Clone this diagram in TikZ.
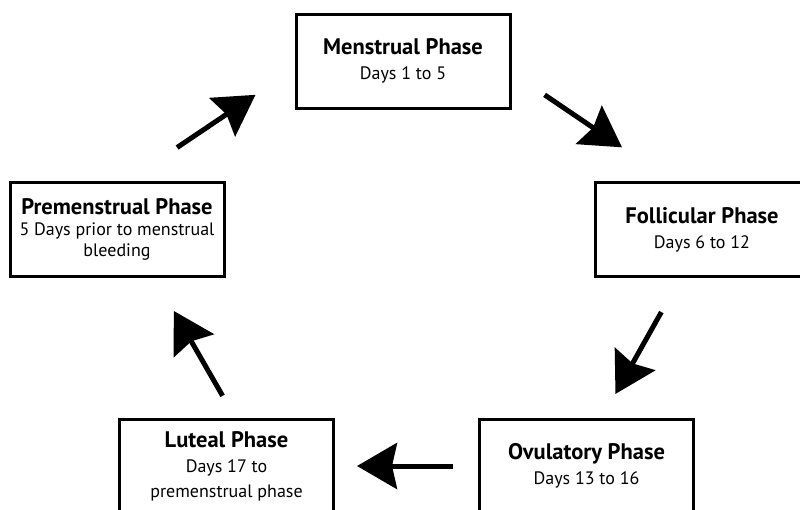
\documentclass[tikz,border=0pt]{standalone}
\usepackage{fontspec}
\setmainfont{PT Sans}
\usetikzlibrary{arrows.meta}
\tikzset{
->,
>={Stealth[length=40pt,width=46pt,inset=5pt]},
phase/.style={draw, -, line width=3pt, minimum width=214pt, minimum height=94pt,
  inner sep=0pt, align=center, font=\fontsize{18}{25}\selectfont},
}
\newcommand{\phasetitle}[1]{{\fontsize{22.5}{25}\selectfont\bfseries #1}}

\begin{document}
\begin{tikzpicture}[x=1pt,y=-1pt,line width=5pt]

    \useasboundingbox (0,0) rectangle (800,509);
    \clip (0,0) rectangle (800,509);

    \node[phase] (men) at (403,61) {\phasetitle{Menstrual Phase}\\Days 1 to 5};
    \node[phase] (foll) at (702,229.5) {\phasetitle{Follicular Phase}\\Days 6 to 12};
    \node[phase] (ovu) at (586.5,466) {\phasetitle{Ovulatory Phase}\\Days 13 to 16};
    \node[phase] (lut) at (226.5,466) {\phasetitle{Luteal Phase}\\Days 17 to\\premenstrual phase};
    \node[phase,font=\fontsize{18}{21}\selectfont] (pre) at (117,229.5)
        {\phasetitle{Premenstrual Phase}\\5 Days prior to menstrual\\bleeding};

    \draw[shorten <=60pt, shorten >=47pt] (pre.78) -- (men.184);
    \draw[shorten <=40pt, shorten >=60pt] (men.354) -- (foll.122);
    \draw[shorten <=39pt, shorten >=27pt] (foll.246) -- (ovu.72);
    \draw[shorten <=25pt, shorten >=22pt] (ovu.west) -- (lut.east);
    \draw[shorten <=25pt, shorten >=38pt] (lut.80) -- (pre.308);

\end{tikzpicture}
\end{document}
